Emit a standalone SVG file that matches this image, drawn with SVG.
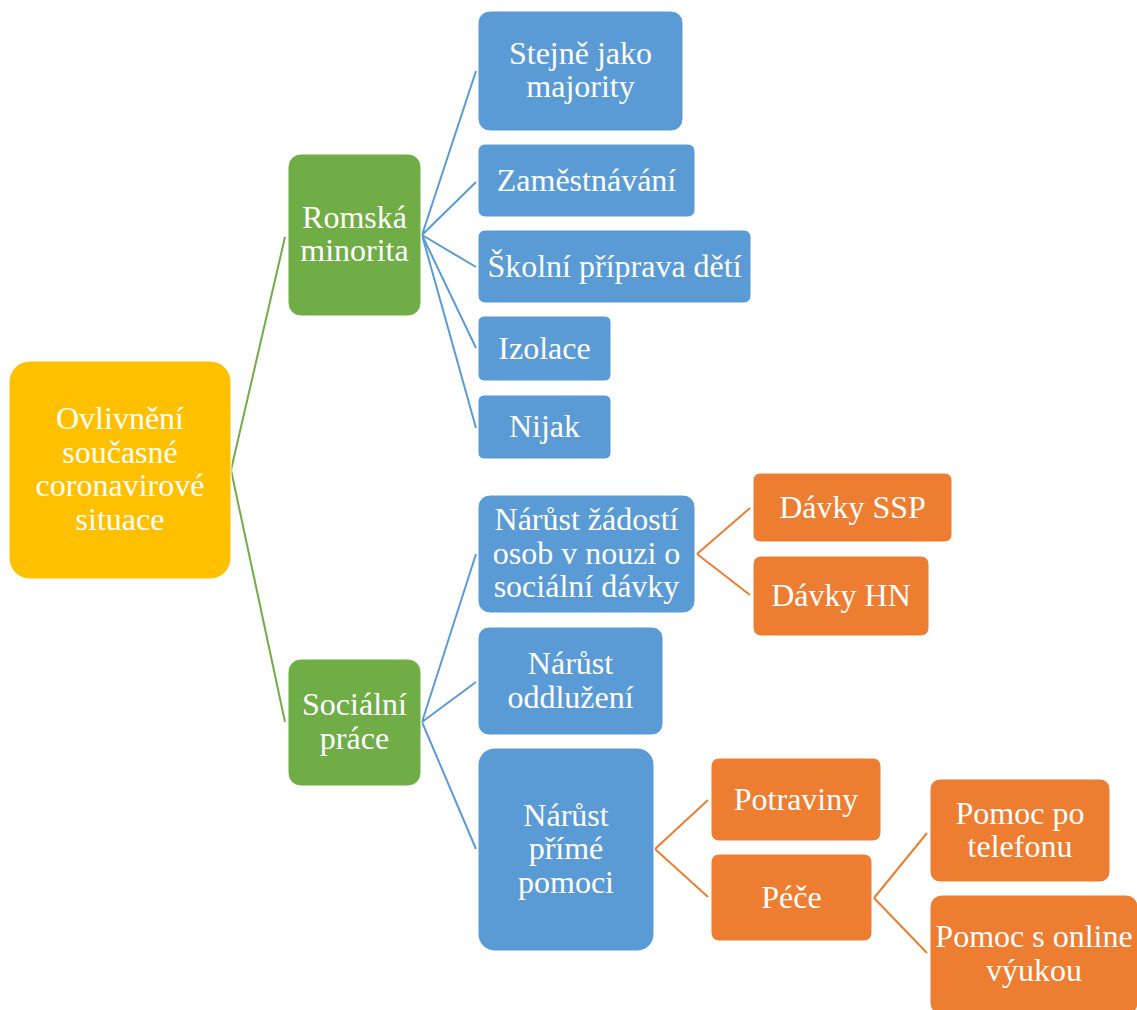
<svg xmlns="http://www.w3.org/2000/svg" width="1137" height="1010" viewBox="0 0 1137 1010">
<style>
  text { font-family: "Liberation Serif", "Times New Roman", serif; font-size: 32px; fill: #ffffff; text-anchor: middle; }
  .root rect { fill: #FFC000; }
  .l1 rect { fill: #70AD47; }
  .l2 rect { fill: #5B9BD5; }
  .l3 rect { fill: #ED7D31; }
  rect { stroke: #ffffff; stroke-width: 1; }
  .cg { stroke: #70AD47; }
  .cb { stroke: #5B9BD5; }
  .co { stroke: #ED7D31; }
  #connectors path { fill: none; stroke-width: 2; }
</style>
<rect x="0" y="0" width="1137" height="1010" fill="#ffffff" stroke="none"/>
<g id="connectors">
  <path class="cg" d="M231,470 L285,237 M231,470 L285,722"/>
  <path class="cb" d="M422,235 L476,71 M422,235 L476,182 M422,235 L476,267 M422,235 L476,348 M422,235 L476,428"/>
  <path class="cb" d="M422,722 L476,554 M422,722 L476,682 M422,722 L476,849"/>
  <path class="co" d="M697,554 L750,508 M697,554 L750,595"/>
  <path class="co" d="M655,849 L708,800 M655,849 L708,897"/>
  <path class="co" d="M874,898 L927,833 M874,898 L927,953"/>
</g>
<g id="n-root" class="root">
  <rect x="9" y="361" width="222" height="218" rx="21"/>
  <text x="120" y="429">Ovlivnění</text>
  <text x="120" y="462.5">současné</text>
  <text x="120" y="496">coronavirové</text>
  <text x="120" y="529.5">situace</text>
</g>
<g id="n-romska" class="l1">
  <rect x="288" y="154" width="133" height="162" rx="13"/>
  <text x="354.5" y="227.5">Romská</text>
  <text x="354.5" y="261">minorita</text>
</g>
<g id="n-socialni" class="l1">
  <rect x="288" y="659" width="133" height="127" rx="13"/>
  <text x="354.5" y="715">Sociální</text>
  <text x="354.5" y="748.5">práce</text>
</g>
<g id="n-stejne" class="l2">
  <rect x="478" y="11" width="205" height="120" rx="12"/>
  <text x="580.5" y="63.5">Stejně jako</text>
  <text x="580.5" y="97">majority</text>
</g>
<g id="n-zamestnavani" class="l2">
  <rect x="478" y="144" width="217" height="73" rx="7"/>
  <text x="586.5" y="190.5">Zaměstnávání</text>
</g>
<g id="n-skolni" class="l2">
  <rect x="478" y="230" width="273" height="73" rx="7"/>
  <text x="614.5" y="276.5">Školní příprava dětí</text>
</g>
<g id="n-izolace" class="l2">
  <rect x="478" y="316" width="133" height="65" rx="6"/>
  <text x="544.5" y="358.5">Izolace</text>
</g>
<g id="n-nijak" class="l2">
  <rect x="478" y="395" width="133" height="64" rx="6"/>
  <text x="544.5" y="437">Nijak</text>
</g>
<g id="n-zadosti" class="l2">
  <rect x="478" y="495" width="217" height="118" rx="12"/>
  <text x="586.5" y="530">Nárůst žádostí</text>
  <text x="586.5" y="563.5">osob v nouzi o</text>
  <text x="586.5" y="597">sociální dávky</text>
</g>
<g id="n-oddluzeni" class="l2">
  <rect x="478" y="627" width="185" height="108" rx="11"/>
  <text x="570.5" y="674">Nárůst</text>
  <text x="570.5" y="707.5">oddlužení</text>
</g>
<g id="n-prime" class="l2">
  <rect x="478" y="748" width="176" height="203" rx="17"/>
  <text x="566" y="825.5">Nárůst</text>
  <text x="566" y="859">přímé</text>
  <text x="566" y="892.5">pomoci</text>
</g>
<g id="n-ssp" class="l3">
  <rect x="753" y="473" width="199" height="69" rx="7"/>
  <text x="852.5" y="517.5">Dávky SSP</text>
</g>
<g id="n-hn" class="l3">
  <rect x="753" y="556" width="176" height="80" rx="8"/>
  <text x="841" y="606">Dávky HN</text>
</g>
<g id="n-potraviny" class="l3">
  <rect x="711" y="758" width="170" height="83" rx="8"/>
  <text x="796" y="809.5">Potraviny</text>
</g>
<g id="n-pece" class="l3">
  <rect x="711" y="854" width="161" height="87" rx="8"/>
  <text x="791.5" y="907.5">Péče</text>
</g>
<g id="n-telefon" class="l3">
  <rect x="930" y="779" width="180" height="103" rx="10"/>
  <text x="1020" y="823.5">Pomoc po</text>
  <text x="1020" y="857">telefonu</text>
</g>
<g id="n-online" class="l3">
  <rect x="930" y="895" width="208" height="120" rx="12"/>
  <text x="1034" y="947">Pomoc s online</text>
  <text x="1034" y="980.5">výukou</text>
</g>
</svg>
